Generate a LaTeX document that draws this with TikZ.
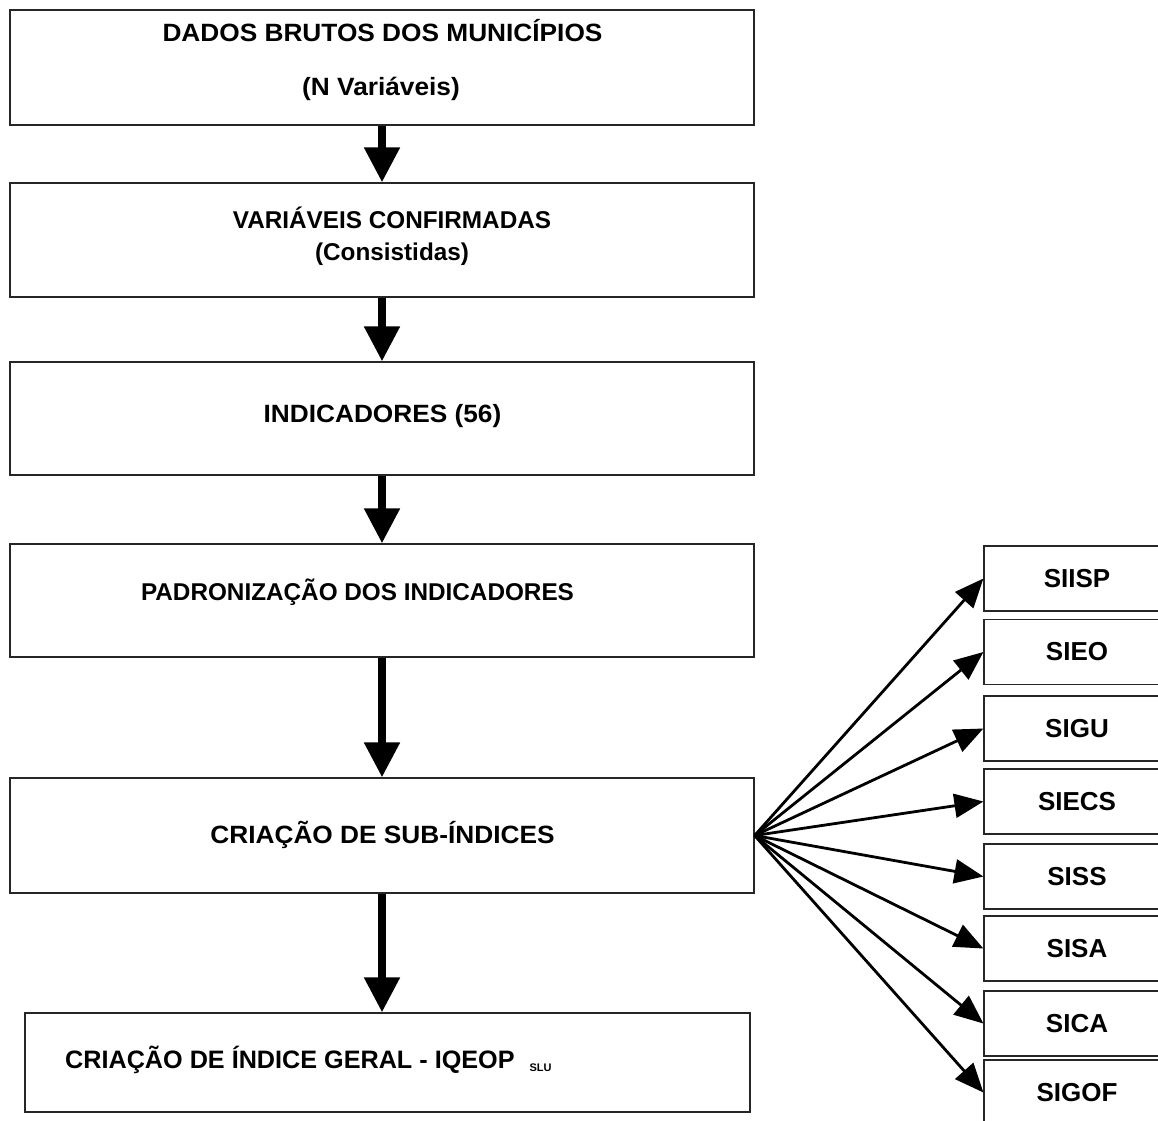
\documentclass[tikz,border=0pt]{standalone}
\usepackage{fontspec}
\setmainfont{Liberation Sans}
\newfontfamily\lblfont{Liberation Sans}[FakeStretch=1.05]
\usetikzlibrary{arrows.meta}
\begin{document}
\begin{tikzpicture}[x=1pt,y=-1pt,
  box/.style={draw=black!85, line width=1.2pt, rectangle, inner sep=0pt, minimum width=744pt},
  txt/.style={font={\lblfont\bfseries\fontsize{25}{29}\selectfont}, inner sep=0pt, anchor=base},
  txtn/.style={font={\bfseries\fontsize{24.3}{29}\selectfont}, inner sep=0pt, anchor=base},
  sbox/.style={draw=black!85, line width=1.2pt, rectangle, inner sep=0pt, minimum width=186pt, minimum height=65pt, font={\bfseries\fontsize{26}{30}\selectfont}},
  bigarrow/.style={line width=8pt, -{Triangle[width=34pt,length=35pt]}},
  fanarrow/.style={line width=2.8pt, -{Triangle[width=24pt,length=29pt]}}
]
\clip (0,0) rectangle (1158,1120);
\fill[white] (0,0) rectangle (1158,1120);

% main boxes
\node[box, minimum height=115pt] (b1) at (382,67.5) {};
\node[box, minimum height=114pt] (b2) at (382,240) {};
\node[box, minimum height=113pt] (b3) at (382,418.5) {};
\node[box, minimum height=113pt] (b4) at (382,600.5) {};
\node[box, minimum height=115pt] (b5) at (382,835.5) {};
\node[box, minimum width=725pt, minimum height=99pt] (b6) at (387.5,1062.5) {};

% texts
\node[txt] (t1a) at (382.5,41.7) {DADOS BRUTOS DOS MUNICÍPIOS};
\node[txt] (t1b) at (381,95) {(N Variáveis)};
\node[txtn] (t2a) at (392,228) {VARIÁVEIS CONFIRMADAS};
\node[txtn] (t2b) at (392,260) {(Consistidas)};
\node[txt] (t3) at (382.5,422.7) {INDICADORES (56)};
\node[txtn] (t4) at (357.5,600) {PADRONIZAÇÃO DOS INDICADORES};
\node[txt] (t5) at (382.5,843) {CRIAÇÃO DE SUB-ÍNDICES};
\node[txtn, font={\bfseries\fontsize{25.2}{29}\selectfont}, anchor=base west] (t6) at (65,1068) {CRIAÇÃO DE ÍNDICE GERAL - IQEOP\hspace{15pt}\raisebox{-3pt}{\fontsize{11}{13}\selectfont SLU}};

% sub-index boxes
\node[sbox] (s1) at (1077,578.5) {SIISP};
\node[sbox] (s2) at (1077,652) {SIEO};
\node[sbox] (s3) at (1077,728.5) {SIGU};
\node[sbox] (s4) at (1077,801.5) {SIECS};
\node[sbox] (s5) at (1077,876.5) {SISS};
\node[sbox] (s6) at (1077,948.5) {SISA};
\node[sbox] (s7) at (1077,1023.5) {SICA};
\node[sbox] (s8) at (1077,1092.5) {SIGOF};

% vertical arrows
\draw[bigarrow] (b1.south) -- (b2.north);
\draw[bigarrow] (b2.south) -- (b3.north);
\draw[bigarrow] (b3.south) -- (b4.north);
\draw[bigarrow] (b4.south) -- (b5.north);
\draw[bigarrow] (b5.south) -- (b5.south |- b6.north);

% fan arrows
\foreach \n in {s1,s2,s3,s4,s5,s6,s7,s8}
  \draw[fanarrow] (b5.east) -- (\n.west);
\end{tikzpicture}
\end{document}
